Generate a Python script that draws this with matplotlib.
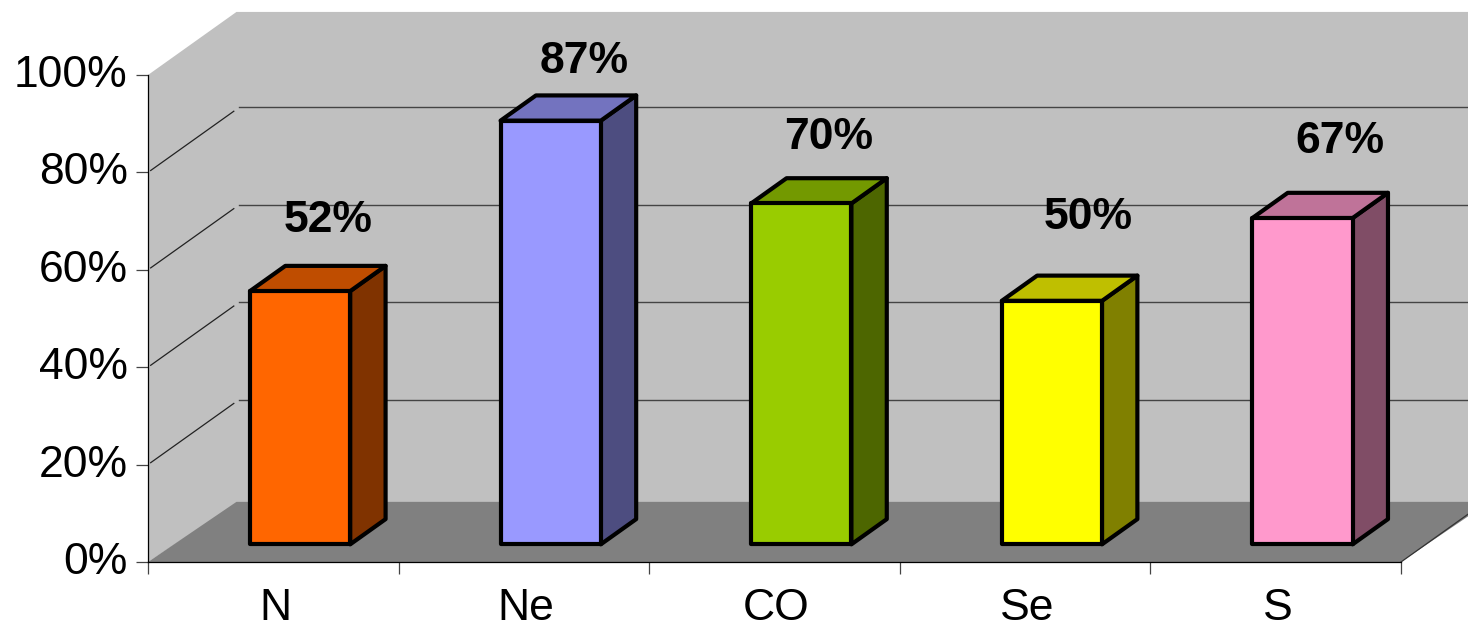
import matplotlib.pyplot as plt
from matplotlib.patches import Polygon
from matplotlib.transforms import ScaledTranslation

# data
categories = ['N', 'Ne', 'CO', 'Se', 'S']
values = [52, 87, 70, 50, 67]
labels = ['52%', '87%', '70%', '50%', '67%']
yticks = [0, 20, 40, 60, 80, 100]
ytick_labels = ['0%', '20%', '40%', '60%', '80%', '100%']

# front, top, side colour of the bars
front_colors = ['#FF6600', '#9999FF', '#99CC00', '#FFFF00', '#FF99CC']
top_colors = ['#BF4D00', '#7373BF', '#739900', '#BFBF00', '#BF7399']
side_colors = ['#803300', '#4D4D80', '#4D6600', '#808000', '#804D66']

# label shift from the front top of the bar, in points
label_shift = [(20, 36), (24, 28), (20, 33), (26, 45), (27, 40)]

plt.rcParams['font.family'] = ['Liberation Sans', 'DejaVu Sans']

fig = plt.figure(figsize=(14.68, 6.27), dpi=100)
ax = fig.add_axes([148 / 1468, 65 / 627, 1253 / 1468, 487 / 627])
ax.set_xlim(0, 5)
ax.set_ylim(0, 100)
ax.patch.set_alpha(0)

# depth of the fake 3d box in axis units
depth_x = 0.353
depth_y = 12.95
bar_width = 0.4
bar_start = 0.28
bar_end = 0.68


def shift(x, y, d):
    return (x + depth_x * d, y + depth_y * d)


# walls and floor
wall = [(0, 0), (0, 100), shift(0, 100, 1), shift(5, 100, 1), shift(5, -1, 1), shift(0, -1, 1)]
ax.add_patch(Polygon(wall, facecolor='#C0C0C0', edgecolor='none', clip_on=False, zorder=1))
floor = [(0, 0), (5, 0), shift(5, -0.6, 1), shift(0, -0.6, 1)]
ax.add_patch(Polygon(floor, facecolor='#808080', edgecolor='none', clip_on=False, zorder=1))
ax.plot([5, shift(5, 0, 1)[0]], [0, shift(5, 0, 1)[1]], color='#333333', lw=0.9, clip_on=False, zorder=2)

# gridlines
for t in yticks[1:-1]:
    p0 = shift(0, t, 0.03)
    p1 = shift(0, t, 0.97)
    ax.plot([p0[0], p1[0]], [p0[1], p1[1]], color='#222222', lw=0.9, clip_on=False, zorder=2)
    p2 = shift(0, t, 1.03)
    ax.plot([p2[0], 6], [p2[1], p2[1]], color='#444444', lw=1.0, clip_on=False, zorder=2)

# bars
for i, v in enumerate(values):
    center = i + 0.508 + depth_x * bar_start
    x0 = center - bar_width / 2
    x1 = center + bar_width / 2
    base = depth_y * bar_start
    top = base + v
    d = bar_end - bar_start
    side = [(x1, base), (x1, top), shift(x1, top, d), shift(x1, base, d)]
    lid = [(x0, top), (x1, top), shift(x1, top, d), shift(x0, top, d)]
    front = [(x0, base), (x1, base), (x1, top), (x0, top)]
    for pts, c in ((side, side_colors[i]), (lid, top_colors[i]), (front, front_colors[i])):
        ax.add_patch(Polygon(pts, facecolor=c, edgecolor='black', lw=3.0, joinstyle='round',
                             clip_on=False, zorder=3))
    ax.annotate(labels[i], (center, top), xytext=label_shift[i], textcoords='offset points',
                ha='center', va='bottom', fontsize=32, fontweight='bold', color='black', zorder=5)

# axes
for s in ['top', 'right']:
    ax.spines[s].set_visible(False)
for s in ['left', 'bottom']:
    ax.spines[s].set_linewidth(0.9)
    ax.spines[s].set_zorder(4)
ax.set_yticks(yticks)
ax.set_yticklabels(ytick_labels, fontsize=32)
ax.set_xticks(range(6))
ax.set_xticklabels([])
ax.set_xticks([i + 0.5 for i in range(5)], categories, minor=True, fontsize=32)
ax.tick_params(axis='y', length=8.6, width=0.9, color='#444444', pad=6)
ax.tick_params(axis='x', which='major', length=8.6, width=0.9, color='#444444')
ax.tick_params(axis='x', which='minor', length=0, pad=19)
for tl in ax.get_yticklabels():
    tl.set_transform(tl.get_transform() + ScaledTranslation(0, 4 / 100, fig.dpi_scale_trans))
for tl in ax.get_xticklabels(minor=True):
    tl.set_transform(tl.get_transform() + ScaledTranslation(2 / 100, 0, fig.dpi_scale_trans))

fig.savefig('out.png', dpi=100)
